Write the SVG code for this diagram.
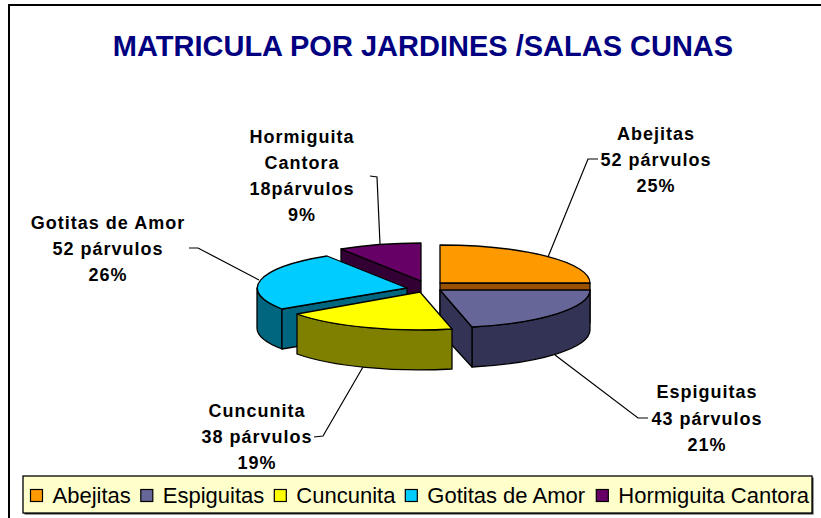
<svg xmlns="http://www.w3.org/2000/svg" width="821" height="518" viewBox="0 0 821 518">
<style>
.lbl{font-family:"Liberation Sans",Arial,sans-serif;font-size:18px;font-weight:bold;fill:#000;text-anchor:middle;letter-spacing:1px}
.leg{font-family:"Liberation Sans",Arial,sans-serif;font-size:22px;fill:#000}
.title{font-family:"Liberation Sans",Arial,sans-serif;font-size:29px;font-weight:bold;fill:#000080;text-anchor:middle}
.pie path{stroke:#000;stroke-width:1.3;stroke-linejoin:round}
.lead polyline{fill:none;stroke:#000;stroke-width:1.2}
.sw{stroke:#000;stroke-width:1.2}
</style>
<rect x="0" y="0" width="821" height="518" fill="#fff"/>
<rect x="9" y="5" width="830" height="530" fill="none" stroke="#000" stroke-width="2"/>
<text class="title" x="423" y="56">MATRICULA POR JARDINES /SALAS CUNAS</text>

<g class="pie" id="pie">
  <g id="hormiguita">
    <path d="M421,281 L341,249 V289 L421,321 Z" fill="#330033"/>
    <path d="M421,281 L341,249 A150,38 0 0,1 421,243 Z" fill="#660066"/>
  </g>
  <g id="abejitas">
    <path d="M440,283 H590 V323 H440 Z" fill="#995200"/>
    <path d="M440,283 L440,245 A150,38 0 0,1 590,283 Z" fill="#FF9900"/>
  </g>
  <g id="gotitas">
    <path d="M282,309 A150,38 0 0,1 257,288 V328 A150,38 0 0,0 282,349 Z" fill="#006680"/>
    <path d="M407,288 L282,309 V349 L407,328 Z" fill="#006680"/>
    <path d="M407,288 L282,309 A150,38 0 0,1 327,256 Z" fill="#00CCFF"/>
  </g>
  <g id="espiguitas">
    <path d="M590,290 A150,38 0 0,1 472,327 V367 A150,38 0 0,0 590,330 Z" fill="#333355"/>
    <path d="M440,290 L472,327 V367 L440,332 Z" fill="#333355"/>
    <path d="M440,290 L590,290 A150,38 0 0,1 472,327 Z" fill="#666699"/>
  </g>
  <g id="cuncunita">
    <path d="M452,329 A150,38 0 0,1 297,314 V354 A150,38 0 0,0 452,369 Z" fill="#808000"/>
    <path d="M420,292 L452,329 A150,38 0 0,1 297,314 Z" fill="#FFFF00"/>
  </g>
</g>

<g class="lead" id="connectors">
  <polyline points="548,257 588,159 598,159"/>
  <polyline points="380,244 377,177 370,176"/>
  <polyline points="259,280 198,248 189,248"/>
  <polyline points="363,367 323,436 314,437"/>
  <polyline points="555,355 638,418 648,418"/>
</g>

<g id="label-abejitas">
  <text class="lbl" x="656" y="140">Abejitas</text>
  <text class="lbl" x="656" y="166">52 párvulos</text>
  <text class="lbl" x="656" y="192">25%</text>
</g>
<g id="label-hormiguita">
  <text class="lbl" x="302" y="143">Hormiguita</text>
  <text class="lbl" x="302" y="169">Cantora</text>
  <text class="lbl" x="302" y="195">18párvulos</text>
  <text class="lbl" x="302" y="221">9%</text>
</g>
<g id="label-gotitas">
  <text class="lbl" x="108" y="229">Gotitas de Amor</text>
  <text class="lbl" x="108" y="255">52 párvulos</text>
  <text class="lbl" x="108" y="281">26%</text>
</g>
<g id="label-cuncunita">
  <text class="lbl" x="257" y="417">Cuncunita</text>
  <text class="lbl" x="257" y="443">38 párvulos</text>
  <text class="lbl" x="257" y="469">19%</text>
</g>
<g id="label-espiguitas">
  <text class="lbl" x="707" y="398">Espiguitas</text>
  <text class="lbl" x="707" y="425">43 párvulos</text>
  <text class="lbl" x="707" y="451">21%</text>
</g>

<g id="legend">
  <rect x="24.5" y="477.5" width="789" height="37" fill="#333"/>
  <rect x="23" y="476" width="789" height="37" fill="#FFFFCC" stroke="#000" stroke-width="1.3"/>
  <rect class="sw" x="30.5" y="489.5" width="12" height="12" fill="#FF9900"/>
  <text class="leg" x="52.5" y="503">Abejitas</text>
  <rect class="sw" x="140.8" y="489.5" width="12" height="12" fill="#666699"/>
  <text class="leg" x="162.8" y="503">Espiguitas</text>
  <rect class="sw" x="274.3" y="489.5" width="12" height="12" fill="#FFFF00"/>
  <text class="leg" x="296.3" y="503">Cuncunita</text>
  <rect class="sw" x="405.3" y="489.5" width="12" height="12" fill="#00CCFF"/>
  <text class="leg" x="427.3" y="503">Gotitas de Amor</text>
  <rect class="sw" x="596.3" y="489.5" width="12" height="12" fill="#660066"/>
  <text class="leg" x="618.3" y="503">Hormiguita Cantora</text>
</g>
</svg>
